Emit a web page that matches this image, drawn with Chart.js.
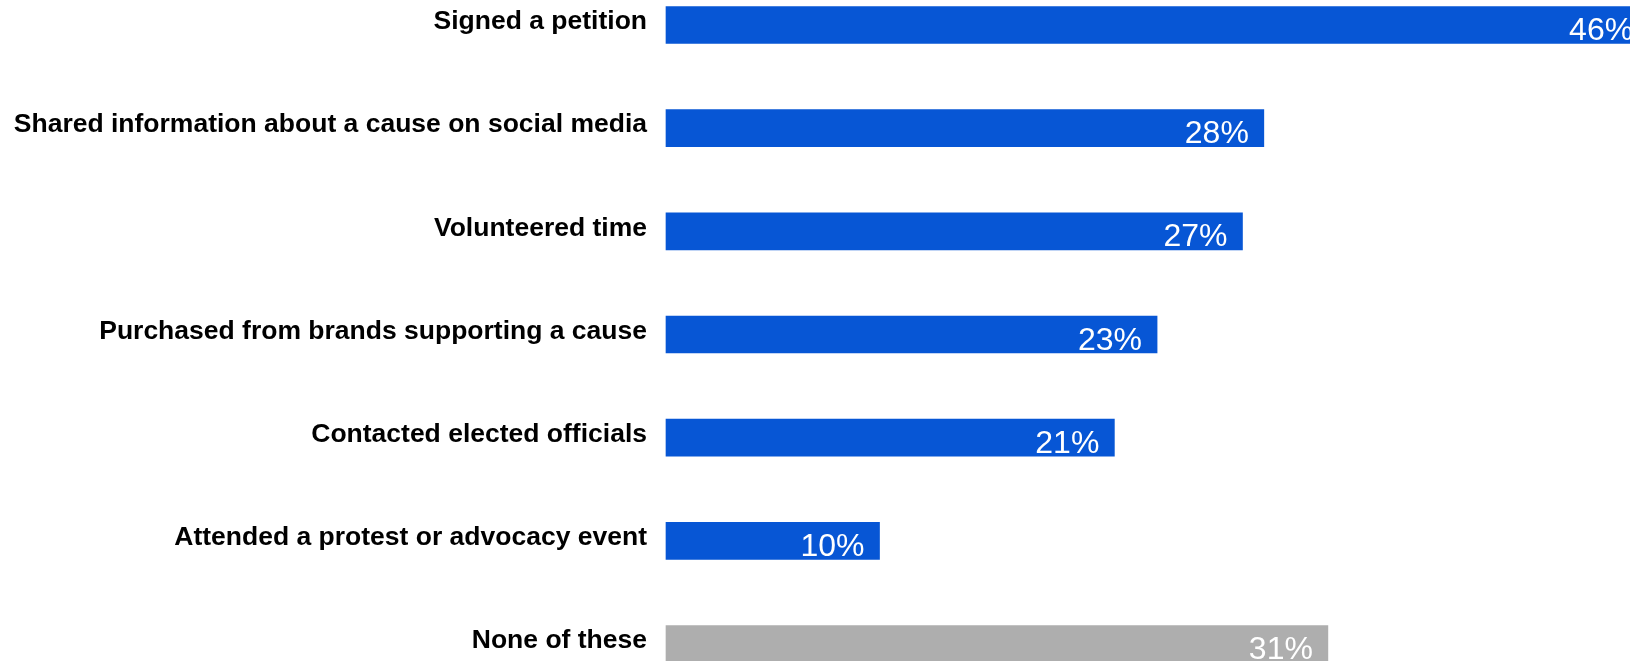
<!DOCTYPE html>
<html>
<head>
<meta charset="utf-8">
<script src="https://cdn.jsdelivr.net/npm/chart.js@4/dist/chart.umd.min.js"></script>
<style>
  html, body { margin: 0; padding: 0; background: #fff; }
  #wrap { width: 1630px; height: 661px; position: relative; }
</style>
</head>
<body>
<div id="wrap"><canvas id="myChart"></canvas></div>
<script>
const ctx = document.querySelector("#myChart")

const labels = [
  "Signed a petition",
  "Shared information about a cause on social media",
  "Volunteered time",
  "Purchased from brands supporting a cause",
  "Contacted elected officials",
  "Attended a protest or advocacy event",
  "None of these"
];
const values = [46, 28, 27, 23, 21, 10, 31];
const barColors = ["#0756d5", "#0756d5", "#0756d5", "#0756d5", "#0756d5", "#0756d5", "#aeaeae"];

// white % labels drawn inside the right end of each bar
const valueLabels = {
  id: 'valueLabels',
  afterDatasetsDraw(chart) {
    const c = chart.ctx;
    const meta = chart.getDatasetMeta(0);
    const xs = chart.scales.x;
    c.save();
    c.font = '32px "Liberation Sans", Arial, sans-serif';
    c.fillStyle = '#ffffff';
    c.textAlign = 'right';
    c.textBaseline = 'alphabetic';
    meta.data.forEach((bar, i) => {
      const x = xs.getPixelForValue(values[i]) - 15;
      c.fillText(values[i] + '%', x, bar.y + 15);
    });
    c.restore();
  }
};

const data = {
  labels: labels,
  datasets: [{
    data: values,
    backgroundColor: barColors,
    barThickness: 37,
    clip: false,
  }]
};

const config = {
  type: 'bar',
  data: data,
  options: {
    indexAxis: 'y',
    responsive: true,
    maintainAspectRatio: false,
    animation: false,
    layout: { padding: { top: 25, bottom: 17, left: 0, right: 0 } },
    plugins: {
      legend: { display: false },
      tooltip: { enabled: false }
    },
    scales: {
      x: {
        display: false,
        min: 0,
        max: 45.15
      },
      y: {
        offset: false,
        grid: { display: false, drawTicks: false },
        border: { display: false },
        ticks: {
          color: '#000',
          padding: 19,
          labelOffset: -3,
          font: { family: '"Liberation Sans", Arial, sans-serif', size: 26.5, weight: 'bold' }
        },
        afterFit(scale) {
          scale.width = 666;
          // first/last rows sit right at the area edges, no extra label room
          scale.paddingTop = 0;
          scale.paddingBottom = 0;
        }
      }
    }
  },
  plugins: [valueLabels]
};

new Chart(ctx, config)
</script>
</body>
</html>
